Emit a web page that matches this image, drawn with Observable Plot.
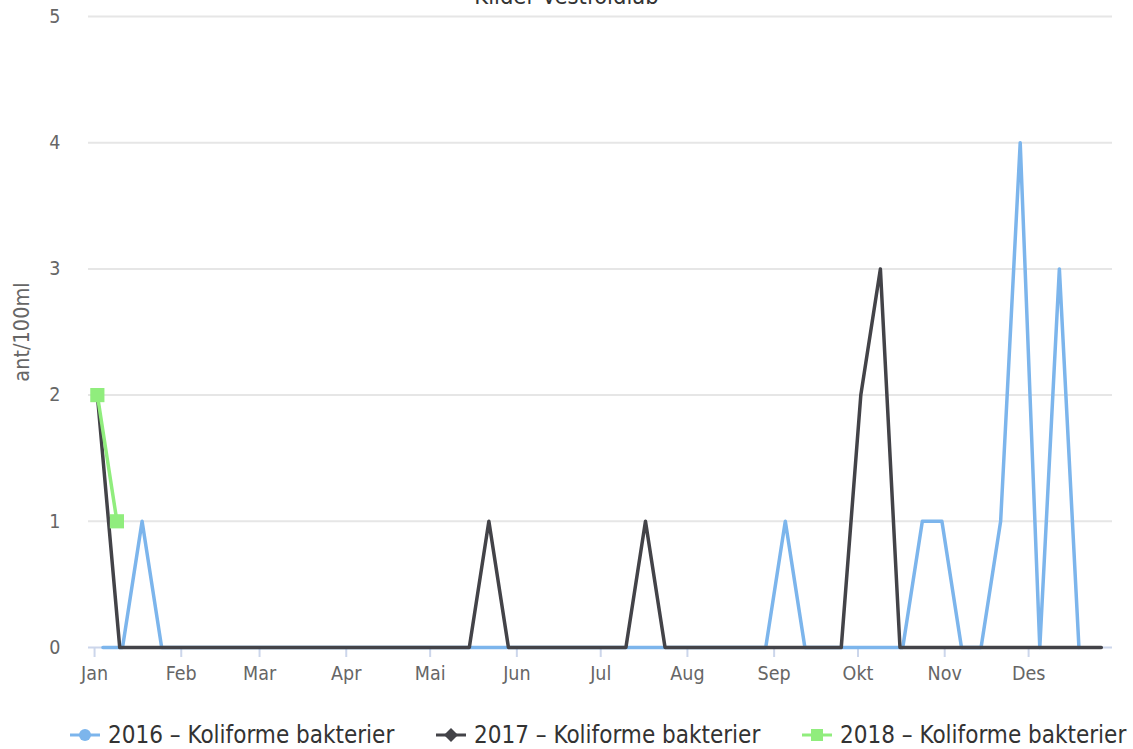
<!DOCTYPE html>
<html>
<head>
<meta charset="utf-8">
<script src="https://cdn.jsdelivr.net/npm/d3@7"></script>
<script src="https://cdn.jsdelivr.net/npm/@observablehq/plot@0.6"></script>
<style>
  html, body { margin: 0; padding: 0; background: #fff; overflow: hidden; }
  body { font-family: "DejaVu Sans Condensed", "DejaVu Sans", sans-serif; }
  #wrap { position: relative; width: 1133px; height: 749px; overflow: hidden; }
  #title { position: absolute; top: -16px; left: 0; width: 1133px; text-align: center; font-size: 23.5px; line-height: 24px; color: #333; }
  #chart { position: absolute; top: 0; left: 0; }
  .leg { position: absolute; bottom: 0; display: flex; align-items: center; font-size: 24px; line-height: normal; color: #333; white-space: nowrap; }
  .leg svg { margin-right: 8px; }
</style>
</head>
<body>
<div id="wrap">
  <div id="chart"></div>
  <div id="title">Kilder Vestfoldlab</div>
  <div id="legend"></div>
</div>
<script>
// ---- data ----
const months = ["Jan","Feb","Mar","Apr","Mai","Jun","Jul","Aug","Sep","Okt","Nov","Des"];
const seriesNames = ["2016 – Koliforme bakterier", "2017 – Koliforme bakterier", "2018 – Koliforme bakterier"];
const seriesColors = ["#7cb5ec", "#434348", "#90ed7d"];

const dates2016 = ["01-04","01-11","01-18","01-25","08-29","09-05","09-12","10-17","10-24","10-31","11-07","11-14","11-21","11-28","12-05","12-12","12-19"];
const values2016 = [0,0,1,0,0,1,0,0,1,1,0,0,1,4,0,3,0];

const dates2017 = ["01-02","01-10","05-15","05-22","05-29","07-10","07-17","07-24","09-25","10-02","10-09","10-16","12-27"];
const values2017 = [2,0,0,1,0,0,1,0,0,2,3,0,0];

const dates2018 = ["01-02","01-09"];
const values2018 = [2,1];

const yTicks = [0,1,2,3,4,5];

// ---- build rows (common year for month/day axis) ----
const toDate = s => new Date("2017-" + s + "T00:00:00Z");
function rows(name, dates, values) {
  return dates.map((d, i) => ({series: name, date: toDate(d), value: values[i]}));
}
const data = [
  ...rows(seriesNames[0], dates2016, values2016),
  ...rows(seriesNames[1], dates2017, values2017),
  ...rows(seriesNames[2], dates2018, values2018)
];
const d2018 = data.filter(d => d.series === seriesNames[2]);

const plot = Plot.plot({
  width: 1133,
  height: 700,
  marginLeft: 88,
  marginRight: 21,
  marginTop: 16,
  marginBottom: 53,
  style: {fontFamily: "DejaVu Sans Condensed, DejaVu Sans, sans-serif", fontSize: "19.5px", background: "#fff"},
  x: {type: "utc", domain: [new Date("2016-12-29T20:00:00Z"), new Date("2017-12-31T00:00:00Z")]},
  y: {domain: [0, 5]},
  color: {domain: seriesNames, range: seriesColors},
  marks: [
    Plot.ruleY(yTicks.filter(v => v > 0), {stroke: "#e6e6e6", strokeWidth: 2}),
    Plot.ruleY([0], {stroke: "#ccd6eb", strokeWidth: 2}),
    Plot.axisY({ticks: yTicks, tickFormat: d => String(d), tickSize: 0, tickPadding: 28, fill: "#666", fontSize: 19.5,
      label: null}),
    Plot.axisX({ticks: d3.utcMonth.every(1), tickFormat: d => months[d.getUTCMonth()],
      tickSize: 10, tickPadding: 9, stroke: "#ccd6eb", strokeWidth: 2, fill: "#666", fontSize: 19.5, label: null}),
    Plot.text(["ant/100ml"], {frameAnchor: "left", textAnchor: "middle", dx: -66, rotate: -90, fill: "#666", fontSize: 21.5}),
    Plot.line(data, {x: "date", y: "value", z: "series", stroke: "series", strokeWidth: 3.5,
      strokeLinejoin: "round", strokeLinecap: "round", curve: "linear"}),
    Plot.dot(d2018, {x: "date", y: "value", symbol: "square", fill: seriesColors[2], r: 8})
  ]
});
document.getElementById("chart").appendChild(plot);

// ---- legend ----
const legendLeft = [70, 436, 802];
const markerShapes = ["circle", "diamond", "square"];
const leg = document.getElementById("legend");
seriesNames.forEach((name, i) => {
  const item = document.createElement("div");
  item.className = "leg";
  item.style.left = legendLeft[i] + "px";
  const c = seriesColors[i];
  let marker = "";
  if (markerShapes[i] === "circle") marker = `<circle cx="15" cy="12" r="6" fill="${c}"/>`;
  else if (markerShapes[i] === "diamond") marker = `<path d="M15 5 L22 12 L15 19 L8 12 Z" fill="${c}"/>`;
  else marker = `<rect x="9" y="6" width="12" height="12" fill="${c}"/>`;
  item.innerHTML = `<svg width="30" height="24"><line x1="0" x2="30" y1="12" y2="12" stroke="${c}" stroke-width="3"/>${marker}</svg><span>${name}</span>`;
  leg.appendChild(item);
});
</script>
</body>
</html>
